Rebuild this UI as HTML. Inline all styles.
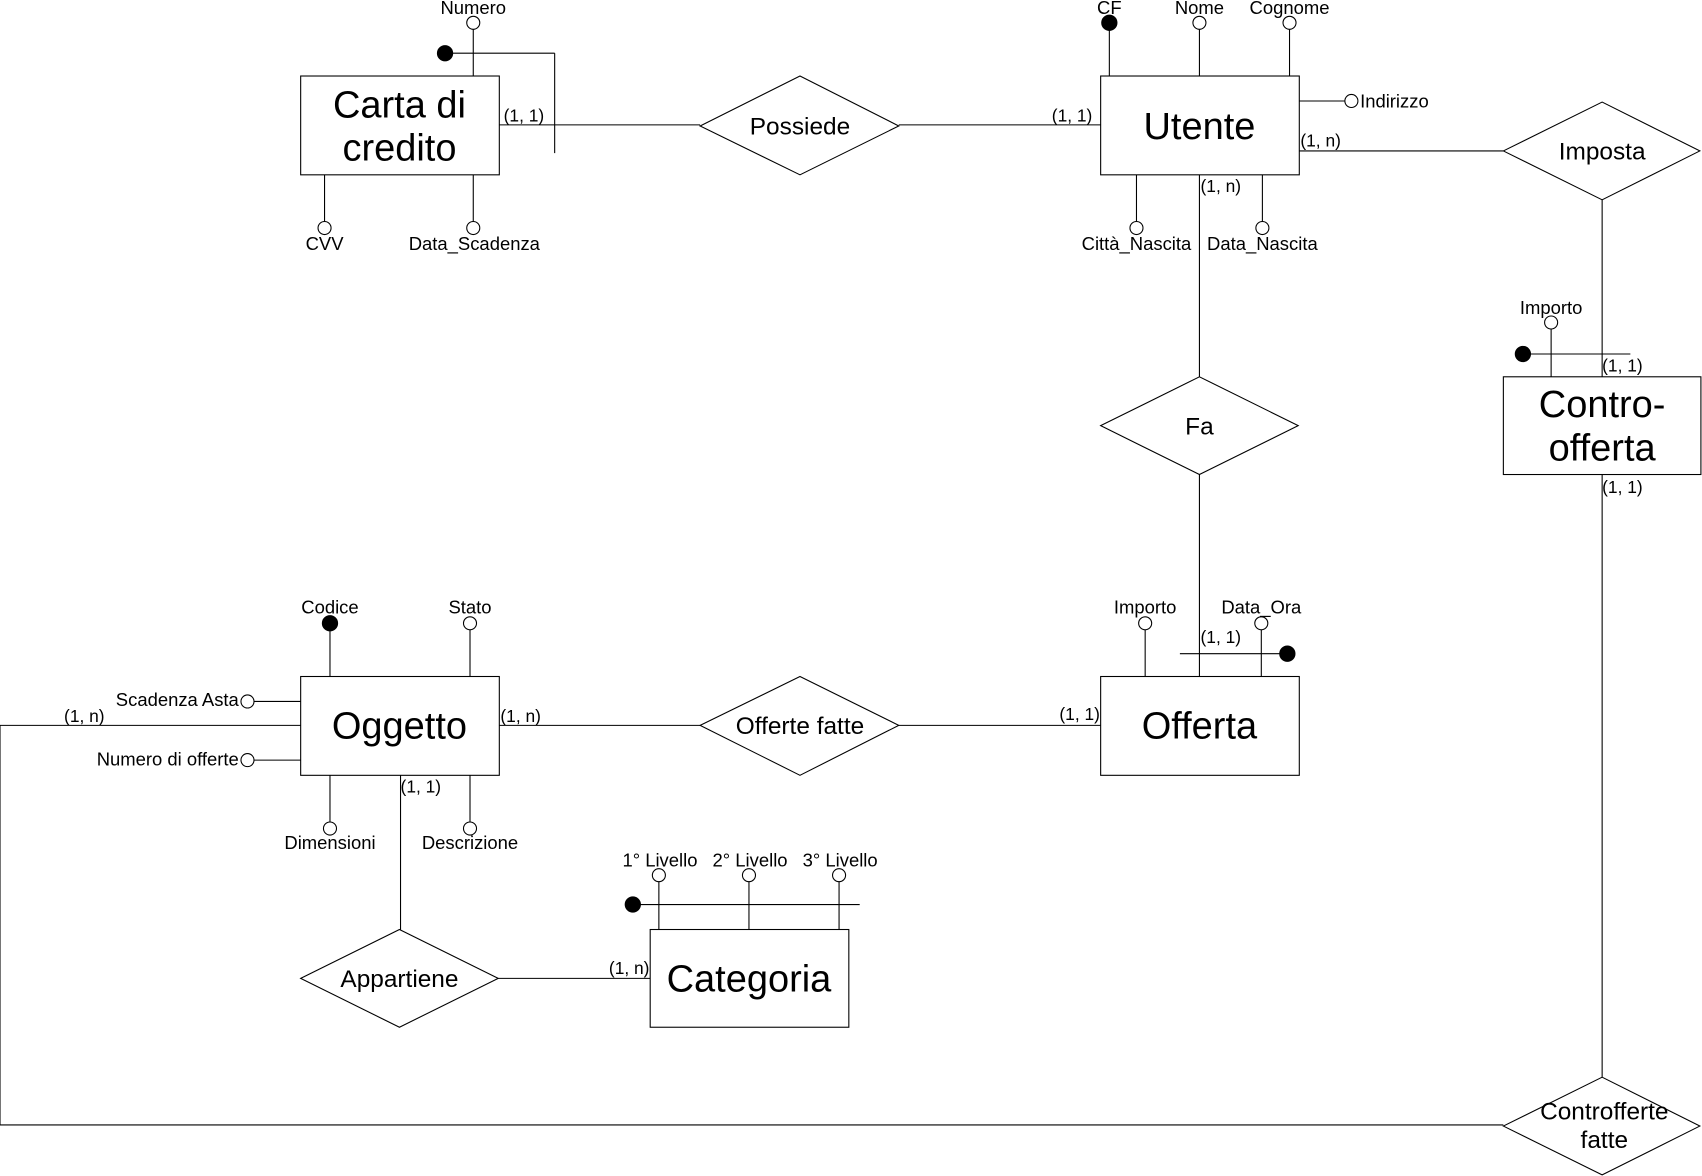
<!DOCTYPE html>
<html><head><meta charset="utf-8"><style>
html,body{margin:0;padding:0;background:#fff;}
svg{display:block;}
text{font-family:"Liberation Sans",sans-serif;fill:#000;}
.a{font-size:17px;text-anchor:middle;}
.c{font-size:16px;}
.d{font-size:22.5px;text-anchor:middle;}
.e{font-size:35px;text-anchor:middle;}
</style></head><body>
<svg width="1702" height="1176" viewBox="0 0 1568 1083" preserveAspectRatio="none" xmlns="http://www.w3.org/2000/svg">
<g stroke="#000" stroke-width="1" fill="none">
<rect x="277" y="70" width="183" height="91"/>
<line x1="436" y1="27" x2="436" y2="70"/><circle cx="436" cy="21" r="6" fill="#fff"/>
<line x1="410" y1="49" x2="511" y2="49"/><line x1="511" y1="49" x2="511" y2="141"/><circle cx="410" cy="49" r="7" fill="#000"/>
<line x1="299" y1="161" x2="299" y2="204"/><circle cx="299" cy="210" r="6" fill="#fff"/>
<line x1="436" y1="161" x2="436" y2="204"/><circle cx="436" cy="210" r="6" fill="#fff"/>
<line x1="460" y1="115" x2="645" y2="115"/>
<polygon points="645,116 737,70 828,116 737,161"/>
<line x1="828" y1="115" x2="1014" y2="115"/>
<rect x="1014" y="70" width="183" height="91"/>
<line x1="1022" y1="27" x2="1022" y2="70"/><circle cx="1022" cy="21" r="7" fill="#000"/>
<line x1="1105" y1="27" x2="1105" y2="70"/><circle cx="1105" cy="21" r="6" fill="#fff"/>
<line x1="1188" y1="27" x2="1188" y2="70"/><circle cx="1188" cy="21" r="6" fill="#fff"/>
<line x1="1197" y1="93" x2="1239" y2="93"/><circle cx="1245" cy="93" r="6" fill="#fff"/>
<line x1="1047" y1="161" x2="1047" y2="204"/><circle cx="1047" cy="210" r="6" fill="#fff"/>
<line x1="1163" y1="161" x2="1163" y2="204"/><circle cx="1163" cy="210" r="6" fill="#fff"/>
<line x1="1197" y1="139" x2="1385" y2="139"/>
<polygon points="1385,139 1476,94 1566,139 1476,184"/>
<line x1="1476" y1="184" x2="1476" y2="347"/>
<line x1="1429" y1="303" x2="1429" y2="347"/><circle cx="1429" cy="297" r="6" fill="#fff"/>
<line x1="1403" y1="326" x2="1502" y2="326"/><circle cx="1403" cy="326" r="7" fill="#000"/>
<rect x="1385" y="347" width="182" height="90"/>
<line x1="1476" y1="437" x2="1476" y2="992"/>
<polygon points="1385,1037 1476,992 1566,1037 1476,1082"/>
<polyline points="1385,1036 0,1036 0,668 277,668"/>
<line x1="1105" y1="161" x2="1105" y2="347"/>
<polygon points="1014,392 1105,347 1196,392 1105,437"/>
<line x1="1105" y1="437" x2="1105" y2="623"/>
<rect x="1014" y="623" width="183" height="91"/>
<line x1="1055" y1="580" x2="1055" y2="623"/><circle cx="1055" cy="574" r="6" fill="#fff"/>
<line x1="1162" y1="580" x2="1162" y2="623"/><circle cx="1162" cy="574" r="6" fill="#fff"/>
<line x1="1087" y1="602" x2="1186" y2="602"/><circle cx="1186" cy="602" r="7" fill="#000"/>
<line x1="828" y1="668" x2="1014" y2="668"/>
<polygon points="645,668 737,623 828,668 737,714"/>
<line x1="460" y1="668" x2="645" y2="668"/>
<rect x="277" y="623" width="183" height="91"/>
<line x1="304" y1="580" x2="304" y2="623"/><circle cx="304" cy="574" r="7" fill="#000"/>
<line x1="433" y1="580" x2="433" y2="623"/><circle cx="433" cy="574" r="6" fill="#fff"/>
<line x1="234" y1="646" x2="277" y2="646"/><circle cx="228" cy="646" r="6" fill="#fff"/>
<line x1="234" y1="700" x2="277" y2="700"/><circle cx="228" cy="700" r="6" fill="#fff"/>
<line x1="304" y1="714" x2="304" y2="757"/><circle cx="304" cy="763" r="6" fill="#fff"/>
<line x1="433" y1="714" x2="433" y2="757"/><circle cx="433" cy="763" r="6" fill="#fff"/>
<line x1="369" y1="714" x2="369" y2="856"/>
<polygon points="277,901 368,856 459,901 368,946"/>
<line x1="459" y1="901" x2="599" y2="901"/>
<rect x="599" y="856" width="183" height="90"/>
<line x1="607" y1="812" x2="607" y2="856"/><circle cx="607" cy="806" r="6" fill="#fff"/>
<line x1="690" y1="812" x2="690" y2="856"/><circle cx="690" cy="806" r="6" fill="#fff"/>
<line x1="773" y1="812" x2="773" y2="856"/><circle cx="773" cy="806" r="6" fill="#fff"/>
<line x1="583" y1="833" x2="792" y2="833"/><circle cx="583" cy="833" r="7" fill="#000"/>
</g>
<text class="e" x="368" y="108">Carta di</text>
<text class="e" x="368" y="148">credito</text>
<text class="e" x="1105" y="128">Utente</text>
<text class="e" x="1476" y="384">Contro-</text>
<text class="e" x="1476" y="424">offerta</text>
<text class="e" x="1105" y="680">Offerta</text>
<text class="e" x="368" y="680">Oggetto</text>
<text class="e" x="690" y="913">Categoria</text>
<text class="d" x="737" y="124">Possiede</text>
<text class="d" x="1476" y="147">Imposta</text>
<text class="d" x="1105" y="400">Fa</text>
<text class="d" x="737" y="676">Offerte fatte</text>
<text class="d" x="368" y="909">Appartiene</text>
<text class="d" x="1478" y="1031">Controfferte</text>
<text class="d" x="1478" y="1057">fatte</text>
<text class="a" x="436" y="13">Numero</text>
<text class="a" x="299" y="230">CVV</text>
<text class="a" x="437" y="230">Data_Scadenza</text>
<text class="a" x="1022" y="13">CF</text>
<text class="a" x="1105" y="13">Nome</text>
<text class="a" x="1188" y="13">Cognome</text>
<text class="a" x="1253" y="99" style="text-anchor:start">Indirizzo</text>
<text class="a" x="1047" y="230">Città_Nascita</text>
<text class="a" x="1163" y="230">Data_Nascita</text>
<text class="a" x="1429" y="289">Importo</text>
<text class="a" x="1055" y="565">Importo</text>
<text class="a" x="1162" y="565">Data_Ora</text>
<text class="a" x="304" y="565">Codice</text>
<text class="a" x="433" y="565">Stato</text>
<text class="a" x="220" y="650" style="text-anchor:end">Scadenza Asta</text>
<text class="a" x="220" y="705" style="text-anchor:end">Numero di offerte</text>
<text class="a" x="304" y="782">Dimensioni</text>
<text class="a" x="433" y="782">Descrizione</text>
<text class="a" x="608" y="798">1° Livello</text>
<text class="a" x="691" y="798">2° Livello</text>
<text class="a" x="774" y="798">3° Livello</text>
<text class="c" x="464" y="112">(1, 1)</text>
<text class="c" x="969" y="112">(1, 1)</text>
<text class="c" x="1198" y="135">(1, n)</text>
<text class="c" x="1106" y="177">(1, n)</text>
<text class="c" x="1476" y="342">(1, 1)</text>
<text class="c" x="1476" y="454">(1, 1)</text>
<text class="c" x="1106" y="592">(1, 1)</text>
<text class="c" x="976" y="663">(1, 1)</text>
<text class="c" x="461" y="665">(1, n)</text>
<text class="c" x="59" y="665">(1, n)</text>
<text class="c" x="369" y="730">(1, 1)</text>
<text class="c" x="561" y="897">(1, n)</text>
</svg>
</body></html>
